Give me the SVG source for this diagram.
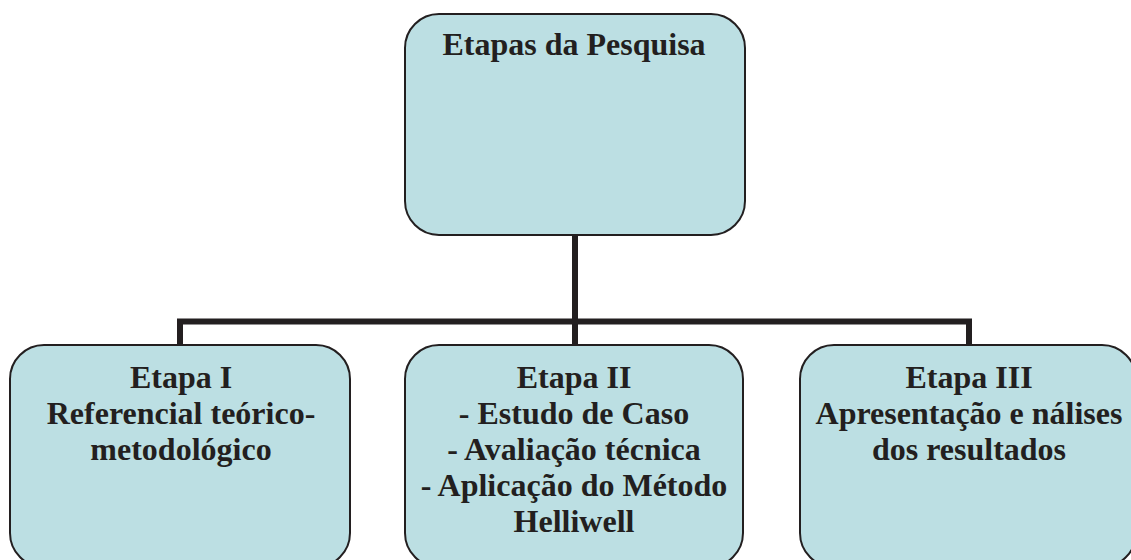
<svg xmlns="http://www.w3.org/2000/svg" width="1131" height="560" viewBox="0 0 1131 560">
<style>
.box{fill:#BCDFE3;stroke:#231F20;stroke-width:2}
.t{font-family:"Liberation Serif","Times New Roman",serif;font-weight:bold;font-size:32px;fill:#231F20;text-anchor:middle}
.c{stroke:#231F20;stroke-width:6;fill:none;stroke-linecap:butt;stroke-linejoin:miter}
</style>
<rect width="1131" height="560" fill="#FFFFFF"/>
<g id="connectors">
<path class="c" d="M575,235 V345"/>
<path class="c" d="M180,345 V321.5 H969 V345"/>
</g>
<g id="root">
<rect class="box" x="405" y="14" width="340" height="221" rx="34" ry="34"/>
<text class="t" x="574" y="55">Etapas da Pesquisa</text>
</g>
<g id="etapa1">
<rect class="box" x="10" y="345" width="340" height="222" rx="34" ry="34"/>
<text class="t" x="181" y="388">Etapa I</text>
<text class="t" x="181" y="424">Referencial teórico-</text>
<text class="t" x="181" y="460">metodológico</text>
</g>
<g id="etapa2">
<rect class="box" x="405" y="345" width="338" height="222" rx="34" ry="34"/>
<text class="t" x="574" y="388">Etapa II</text>
<text class="t" x="574" y="424">- Estudo de Caso</text>
<text class="t" x="574" y="460">- Avaliação técnica</text>
<text class="t" x="574" y="496">- Aplicação do Método</text>
<text class="t" x="574" y="532">Helliwell</text>
</g>
<g id="etapa3">
<rect class="box" x="800" y="345" width="336" height="222" rx="34" ry="34"/>
<text class="t" x="969" y="388">Etapa III</text>
<text class="t" x="969" y="424">Apresentação e nálises</text>
<text class="t" x="969" y="460">dos resultados</text>
</g>
</svg>
